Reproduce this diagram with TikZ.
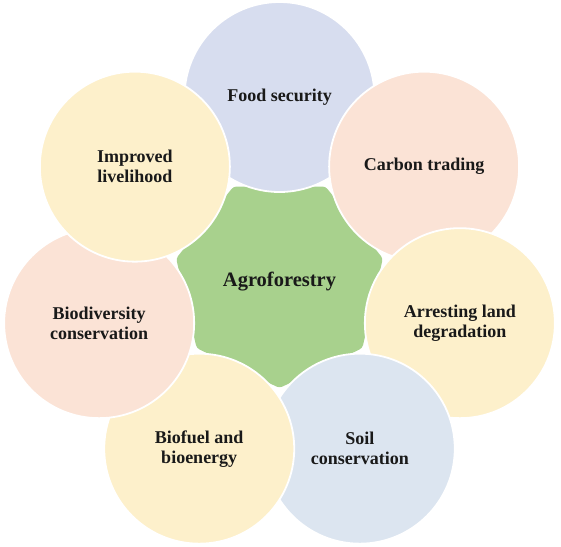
\documentclass[tikz,border=0pt]{standalone}
\usepackage{fontspec}
\setmainfont{Liberation Serif}
\usetikzlibrary{shapes.geometric,calc}
\definecolor{cfood}{HTML}{D7DDEF}
\definecolor{ccarbon}{HTML}{FBE3D6}
\definecolor{cyellow}{HTML}{FDF0CB}
\definecolor{csoil}{HTML}{DCE5F0}
\definecolor{cgreen}{HTML}{A8D18D}
\tikzset{
  petal/.style={circle, minimum size=190pt, inner sep=0pt, draw=white, line width=1.8pt,
    align=center, font=\fontsize{18}{20}\selectfont\bfseries, text=black!90},
  core/.style={regular polygon, regular polygon sides=7, shape border rotate=180,
    minimum size=212pt, inner sep=0pt, fill=cgreen, draw=none, rounded corners=3pt}
}
\begin{document}
\begin{tikzpicture}
\useasboundingbox (0,0) rectangle (561pt,-546pt);
\coordinate (O) at (279.5pt,-282pt);
\node[core] (agro) at (O) {};
\node[petal, fill=cfood]   (food)   at ($(O)+(90:185pt)$) {Food security};
\node[petal, fill=ccarbon] (carbon) at ($(O)+(38.571:185pt)$) {Carbon trading};
\node[petal, fill=cyellow] (arrest) at ($(O)+(-12.857:185pt)$) {Arresting land\\degradation};
\node[petal, fill=csoil]   (soil)   at ($(O)+(-64.286:185pt)$) {Soil\\conservation};
\node[petal, fill=cyellow] (biofuel) at ($(O)+(-115.714:185pt)$) {Biofuel and\\bioenergy};
\node[petal, fill=ccarbon] (biodiv) at ($(O)+(-167.143:185pt)$) {Biodiversity\\conservation};
\node[petal, fill=cyellow] (improved) at ($(O)+(141.429:185pt)$) {Improved\\livelihood};
\node[font=\fontsize{20.5}{24}\selectfont\bfseries, text=black!90] (agrolabel) at (agro.center) {Agroforestry};
\end{tikzpicture}
\end{document}
